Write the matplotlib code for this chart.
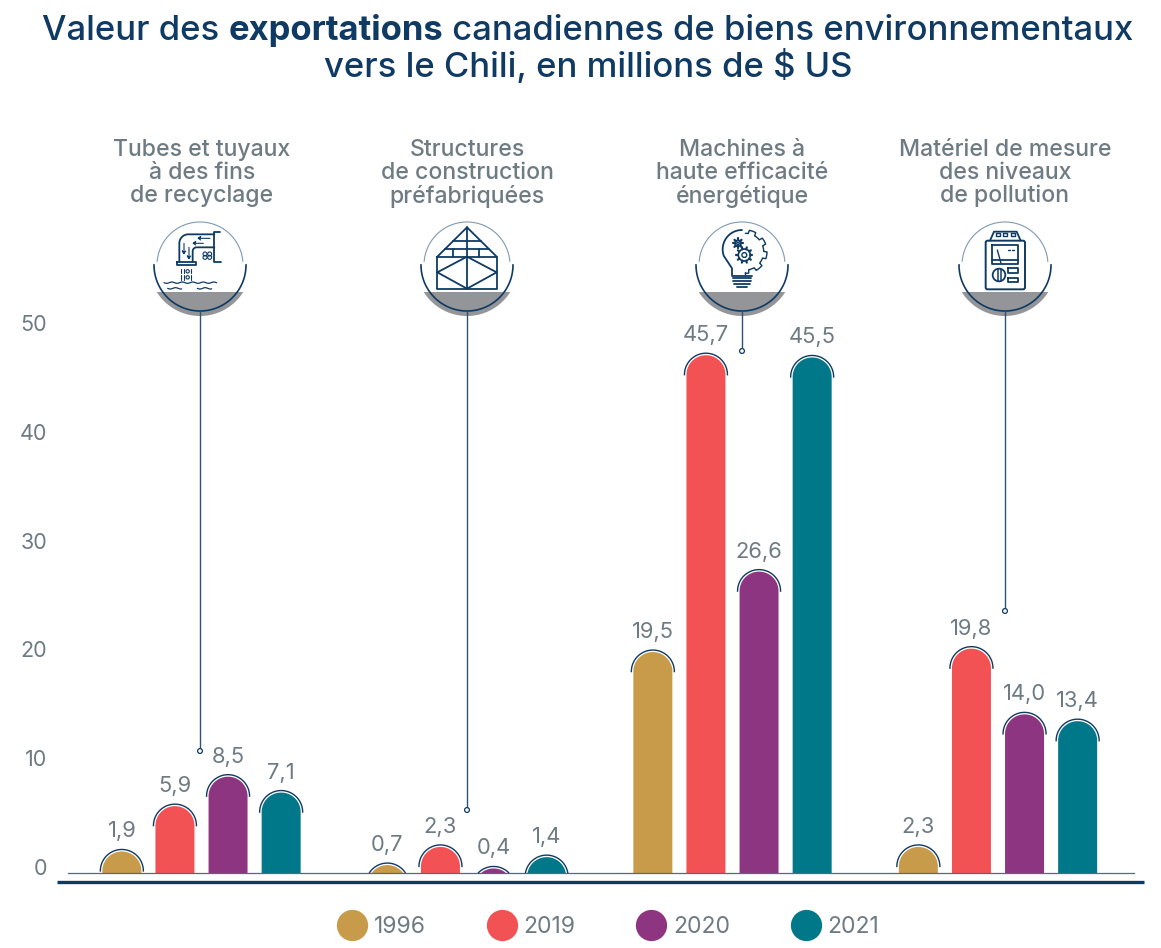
"""
Exportations canadiennes de biens environnementaux vers le Chili
"""

import numpy as np
import matplotlib
matplotlib.use('Agg')
import matplotlib.pyplot as plt
from matplotlib.lines import Line2D
from matplotlib.patches import Circle, FancyBboxPatch, Polygon

# ============================================================
# Données
# ============================================================

categories = [
    "Tubes et tuyaux\nà des fins\nde recyclage",
    "Structures\nde construction\npréfabriquées",
    "Machines à\nhaute efficacité\nénergétique",
    "Matériel de mesure\ndes niveaux\nde pollution",
]
years = ["1996", "2019", "2020", "2021"]
values_1996 = [1.9, 0.7, 19.5, 2.3]
values_2019 = [5.9, 2.3, 45.7, 19.8]
values_2020 = [8.5, 0.4, 26.6, 14.0]
values_2021 = [7.1, 1.4, 45.5, 13.4]
tick_values = [0, 10, 20, 30, 40, 50]

# ============================================================
# Style
# ============================================================

W, H = 1161, 948
FONT = 'Inter'
NAVY = '#0F3A63'
GREY = '#6E7B83'
CAP = '#939598'
colors = ['#C89B4A', '#F25254', '#8E3582', '#007889']

PX_X = 265.5   # pixels par groupe
PX_Y = 11.33   # pixels par unité
BASE_PX = 873
R_BAR = 19.5
R_ARC = 21.5

plt.rcParams['font.family'] = [FONT, 'DejaVu Sans']
fig = plt.figure(figsize=(W / 100, H / 100), dpi=100)

left = 68
right = 1134
top = 300
ax = fig.add_axes([left / W, 1 - BASE_PX / H, (right - left) / W, (BASE_PX - top) / H])
ax.set_xlim((left - 201.5) / PX_X, (right - 201.5) / PX_X)
ax.set_ylim(0, (BASE_PX - top) / PX_Y)
ax.patch.set_alpha(0)
for side in ['top', 'right', 'left']:
    ax.spines[side].set_visible(False)
ax.spines['bottom'].set_color('#55697C')
ax.spines['bottom'].set_linewidth(0.9)
ax.set_xticks([])
ax.set_yticks([])


# ============================================================
# Barres à sommet arrondi
# ============================================================

def dome_bar(ax, x, value, color):
    """Barre à sommet en demi-cercle, coupée à zéro pour les petites valeurs."""
    rx, ry = R_BAR / PX_X, R_BAR / PX_Y
    yc = value - ry
    theta = np.linspace(0, np.pi, 80)
    xs = x + rx * np.cos(theta)
    ys = yc + ry * np.sin(theta)
    keep = ys >= 0
    xs, ys = xs[keep], ys[keep]
    xs = np.concatenate([[xs[0]], xs, [xs[-1]]])
    ys = np.concatenate([[0], ys, [0]])
    ax.fill(xs, ys, color=color, lw=0, zorder=2)

    # arc marine autour du sommet
    ax_rx, ax_ry = R_ARC / PX_X, R_ARC / PX_Y
    ax_x = x + ax_rx * np.cos(theta)
    ax_y = yc + ax_ry * np.sin(theta)
    keep = ax_y >= 0
    ax.plot(ax_x[keep], ax_y[keep], color=NAVY, lw=1.0, zorder=3, clip_on=False)

    label = f"{value:.1f}".replace('.', ',')
    ax.text(x, value + 10 / PX_Y, label, ha='center', va='bottom',
            fontsize=15.8, color=GREY, clip_on=False)


series = [values_1996, values_2019, values_2020, values_2021]
offsets = [-0.3, -0.1, 0.1, 0.3]
for vals, off, col in zip(series, offsets, colors):
    for i, v in enumerate(vals):
        dome_bar(ax, i + off, v, col)

# Les étiquettes de l'axe ne suivent pas tout à fait l'échelle des barres
sec = ax.secondary_yaxis(
    'left',
    functions=(lambda v: (np.asarray(v) * PX_Y - 6) / 10.88,
               lambda t: (np.asarray(t) * 10.88 + 6) / PX_Y),
)
sec.set_yticks(tick_values)
sec.set_yticklabels([str(t) for t in tick_values], fontsize=15.5, color=GREY)
sec.tick_params(axis='y', length=0, pad=15)
sec.spines['left'].set_visible(False)

# ============================================================
# Calque en pixels : titre, pictogrammes, renvois
# ============================================================

ov = fig.add_axes([0, 0, 1, 1], zorder=5)
ov.set_xlim(0, W)
ov.set_ylim(H, 0)
ov.axis('off')
ov.patch.set_alpha(0)

# trait épais sous le graphique
ov.plot([57, 1144], [881.5, 881.5], color=NAVY, lw=2.4, solid_capstyle='butt')


def title_line(y, parts, size=24.9):
    """Une ligne de titre centrée, faite de morceaux normal / gras."""
    renderer = fig.canvas.get_renderer()
    items = []
    for txt, weight in parts:
        t = ov.text(0, y, txt, fontsize=size, color=NAVY, fontweight=weight,
                    va='baseline', ha='left')
        items.append(t)
    widths = []
    for t, (txt, weight) in zip(items, parts):
        # les espaces de fin ne comptent pas dans la boîte : on mesure avec un point
        probe = ov.text(0, y, txt + '.', fontsize=size, fontweight=weight)
        dot = ov.text(0, y, '.', fontsize=size, fontweight=weight)
        widths.append(probe.get_window_extent(renderer).width
                      - dot.get_window_extent(renderer).width)
        probe.remove()
        dot.remove()
    x = 588 - sum(widths) / 2
    for t, w in zip(items, widths):
        t.set_x(x)
        x += w


title_line(40, [("Valeur des ", 'medium'), ("exportations", 'bold'),
                (" canadiennes de biens environnementaux", 'medium')])
title_line(77, [("vers le Chili, en millions de $ US", 'medium')])


def line(pts, cx, cy, z0, lw=1.3):
    pts = np.array(pts, dtype=float)
    ov.plot(cx + (pts[:, 0] - z0[0]) / 3, cy + (pts[:, 1] - z0[1]) / 3,
            color=NAVY, lw=lw, solid_capstyle='round')


def circ(x, y, r, cx, cy, z0, lw=1.3):
    ov.add_patch(Circle((cx + (x - z0[0]) / 3, cy + (y - z0[1]) / 3), r / 3,
                        fill=False, ec=NAVY, lw=lw))


def curve(xc, yc, r, a0, a1, n=30):
    t = np.radians(np.linspace(a0, a1, n))
    return np.column_stack([xc + r * np.cos(t), yc + r * np.sin(t)])


def icon_pipe(cx, cy):
    z = (240, 165)
    line([(300, 65), (283, 65), (283, 157), (302, 157)], cx, cy, z)
    line(np.vstack([[(283, 73)], curve(205, 100, 27, -90, -180), [(178, 155)]]), cx, cy, z)
    line(np.vstack([[(283, 112)], curve(230, 124, 12, -90, -180), [(218, 155)]]), cx, cy, z)
    line([(172, 155), (228, 155), (228, 166), (172, 166), (172, 155)], cx, cy, z)
    for (x0, y0, x1, y1) in [(270, 85, 235, 85), (250, 100, 220, 100)]:
        line([(x0, y0), (x1, y1), (x1 + 7, y1 - 5), (x1, y1), (x1 + 7, y1 + 5)], cx, cy, z, 0.8)
    for (x0, y0, x1, y1) in [(192, 100, 192, 130), (207, 112, 207, 145)]:
        line([(x0, y0), (x1, y1), (x1 - 5, y1 - 7), (x1, y1), (x1 + 5, y1 - 7)], cx, cy, z, 0.8)
    for dx, dy in [(-7, -5), (7, -5), (-7, 5), (7, 5)]:
        circ(262 + dx, 137 + dy, 6, cx, cy, z, 0.8)
    for x, y0, y1 in [(182, 177, 188), (182, 195, 210), (192, 177, 188), (192, 195, 210),
                      (213, 177, 188), (213, 195, 210)]:
        line([(x, y0), (x, y1)], cx, cy, z, 0.8)
    circ(203, 184, 5, cx, cy, z, 0.8)
    circ(203, 202, 5, cx, cy, z, 0.8)
    for x0, x1, y in [(132, 290, 218), (143, 185, 235), (232, 275, 235)]:
        xs = np.linspace(x0, x1, 60)
        line(np.column_stack([xs, y + 2 * np.sin((xs - x0) / 5)]), cx, cy, z, 0.9)


def icon_house(cx, cy):
    z = (232, 165)
    line([(143, 140), (232, 52), (321, 140)], cx, cy, z)
    line([(143, 140), (321, 140), (321, 236), (143, 236), (143, 140)], cx, cy, z)
    line([(232, 52), (232, 236)], cx, cy, z)
    line([(190, 92), (275, 92)], cx, cy, z)
    line([(165, 117), (298, 117)], cx, cy, z)
    line([(190, 117), (190, 140)], cx, cy, z)
    line([(269, 117), (269, 140)], cx, cy, z)
    line([(143, 187), (232, 140), (321, 187), (232, 236), (143, 187)], cx, cy, z)


def icon_bulb(cx, cy):
    z = (245, 165)
    line(np.vstack([curve(245, 118, 58, -90, -200), [(215, 175), (215, 195)]]), cx, cy, z)
    ang = np.radians(np.linspace(-90, 90, 120))
    rad = 60 + 5 * np.sign(np.sin(ang * 9))
    line(np.column_stack([255 + rad * np.cos(ang), 125 + rad * np.sin(ang)]), cx, cy, z, 1.0)
    line([(255, 185), (255, 195)], cx, cy, z, 1.0)
    for xc, yc, r, n in [(233, 100, 9, 8), (252, 135, 18, 10)]:
        circ(xc, yc, r, cx, cy, z, 1.2)
        circ(xc, yc, r * 0.4, cx, cy, z, 1.0)
        for a in np.linspace(0, 2 * np.pi, n, endpoint=False):
            line([(xc + r * np.cos(a), yc + r * np.sin(a)),
                  (xc + (r + 6) * np.cos(a), yc + (r + 6) * np.sin(a))], cx, cy, z, 1.6)
    for y, x0, x1 in [(197, 215, 275), (205, 218, 272), (214, 218, 272), (223, 222, 268), (232, 230, 260)]:
        line([(x0, y), (x1, y)], cx, cy, z, 1.3)


def icon_meter(cx, cy):
    z = (240, 165)
    ov.add_patch(FancyBboxPatch((cx + (182 - 240) / 3 + 2, cy + (92 - 165) / 3 + 2),
                                112 / 3 - 2, 140 / 3 - 2, boxstyle='round,pad=2',
                                fill=False, ec=NAVY, lw=1.4))
    line([(195, 92), (207, 65), (275, 65), (287, 92)], cx, cy, z)
    for x in [213, 235, 257]:
        line([(x, 68), (x + 12, 68), (x + 12, 78), (x, 78), (x, 68)], cx, cy, z, 1.0)
    line([(200, 105), (280, 105), (280, 162), (200, 162), (200, 105)], cx, cy, z)
    line([(200, 150), (280, 150)], cx, cy, z)
    line([(217, 120), (228, 160)], cx, cy, z, 1.0)
    line([(250, 120), (254, 120)], cx, cy, z, 1.0)
    line([(262, 120), (266, 120)], cx, cy, z, 1.0)
    circ(222, 195, 19, cx, cy, z, 1.3)
    line([(218, 177), (218, 213)], cx, cy, z, 1.1)
    line([(227, 177), (227, 213)], cx, cy, z, 1.1)
    for y in [175, 203]:
        line([(248, y), (279, y), (279, y + 14), (248, y + 14), (248, y)], cx, cy, z)


centers = [200, 467, 742, 1005]
label_x = [202, 467, 742, 1005]
leader_ends = [751, 810, 351, 611]
icons = [icon_pipe, icon_house, icon_bulb, icon_meter]
CY = 265

for cx, lx, end, icon, name in zip(centers, label_x, leader_ends, icons, categories):
    # calotte grise coupée à l'horizontale
    a = np.degrees(np.arcsin(27 / 51))
    seg = curve(cx, CY, 51, a, 180 - a, 50)
    ov.add_patch(Polygon(seg, closed=True, fc=CAP, ec='none', zorder=1))
    # cercle fin du haut et arc marine du bas
    ov.plot(*curve(cx, CY, 43, 185, 355, 80).T, color='#7F9AB3', lw=0.8)
    ov.plot(*curve(cx, CY, 46, 0, 180, 80).T, color=NAVY, lw=1.2)
    icon(cx, CY)
    # renvoi vers les barres
    ov.plot([cx, cx], [311, end - 2.5], color='#2F5273', lw=1.0)
    ov.add_patch(Circle((cx, end), 2.4, fc='white', ec=NAVY, lw=0.9, zorder=4))
    # nom de la catégorie
    for y, part in zip([150, 173, 196], name.split('\n')):
        ov.text(lx, y, part, ha='center', va='center', fontsize=16.6,
                fontweight='medium', color=GREY)

# ============================================================
# Légende
# ============================================================

handles = [Line2D([], [], ls='none', marker='o', ms=22.5, mfc=c, mec='none') for c in colors]
fig.legend(handles, years, loc='center', bbox_to_anchor=(610 / W, 1 - 927 / H), ncol=4,
           frameon=False, fontsize=16.5, labelcolor=GREY, handlelength=1.0,
           handletextpad=0.45, columnspacing=2.81)

plt.savefig('out.png', dpi=100)
